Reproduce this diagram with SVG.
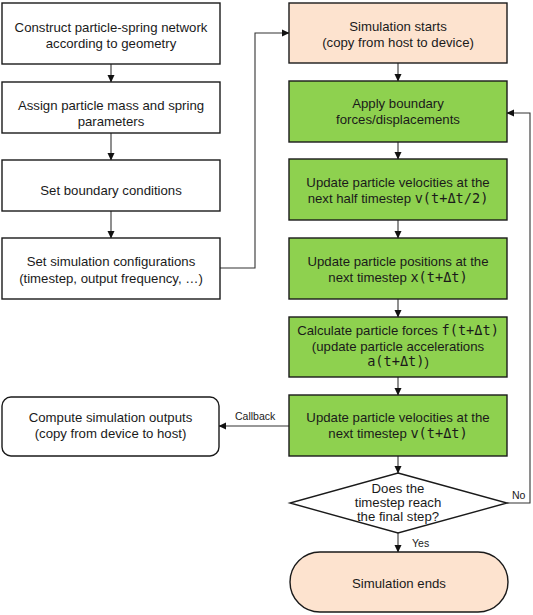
<svg xmlns="http://www.w3.org/2000/svg" width="533" height="615" viewBox="0 0 533 615">
<defs>
<marker id="arr" markerWidth="8" markerHeight="8" refX="7" refY="4" orient="auto" markerUnits="userSpaceOnUse">
<path d="M0,0.5 L7.5,4 L0,7.5 Z" fill="#111"/>
</marker>
<style>
.box{fill:#fff;stroke:#1a1a1a;stroke-width:1.4}
.green{fill:#8ed14f;stroke:#1a1a1a;stroke-width:1.4}
.peach{fill:#fde3cf;stroke:#1a1a1a;stroke-width:1.4}
.t{font-family:"Liberation Sans",Arial,sans-serif;font-size:13.2px;fill:#1a1a1a;text-anchor:middle}
.m{font-family:"DejaVu Sans Mono","Liberation Mono",monospace;font-size:13.6px}
.lbl{font-family:"Liberation Sans",Arial,sans-serif;font-size:10.5px;fill:#1a1a1a}
.c{fill:none;stroke:#333;stroke-width:1.1}
</style>
</defs>
<rect width="533" height="615" fill="#fff"/>

<g id="connectors">
<line class="c" x1="111" y1="64" x2="111" y2="82" marker-end="url(#arr)"/>
<line class="c" x1="111" y1="133" x2="111" y2="160" marker-end="url(#arr)"/>
<line class="c" x1="111" y1="211" x2="111" y2="238" marker-end="url(#arr)"/>
<polyline class="c" points="220,268 255,268 255,33 289,33" marker-end="url(#arr)"/>
<line class="c" x1="398" y1="63" x2="398" y2="81" marker-end="url(#arr)"/>
<line class="c" x1="398" y1="142" x2="398" y2="159" marker-end="url(#arr)"/>
<line class="c" x1="398" y1="220" x2="398" y2="238" marker-end="url(#arr)"/>
<line class="c" x1="398" y1="299" x2="398" y2="317" marker-end="url(#arr)"/>
<line class="c" x1="398" y1="377" x2="398" y2="395" marker-end="url(#arr)"/>
<line class="c" x1="398" y1="456" x2="398" y2="473" marker-end="url(#arr)"/>
<line class="c" x1="398" y1="533" x2="398" y2="552" marker-end="url(#arr)"/>
<line class="c" x1="289" y1="426" x2="219" y2="426" marker-end="url(#arr)"/>
<polyline class="c" points="507,503 530,503 530,113 507,113" marker-end="url(#arr)"/>
<text class="lbl" x="235" y="420">Callback</text>
<text class="lbl" x="512" y="499">No</text>
<text class="lbl" x="412" y="547">Yes</text>
</g>

<g id="n1">
<rect class="box" x="2" y="3" width="218" height="61"/>
<text class="t" x="111" y="31.5">Construct particle-spring network</text>
<text class="t" x="111" y="47.5">according to geometry</text>
</g>
<g id="n2">
<rect class="box" x="2" y="82" width="218" height="51"/>
<text class="t" x="111" y="110">Assign particle mass and spring</text>
<text class="t" x="111" y="125.5">parameters</text>
</g>
<g id="n3">
<rect class="box" x="2" y="160" width="218" height="51"/>
<text class="t" x="111" y="195">Set boundary conditions</text>
</g>
<g id="n4">
<rect class="box" x="2" y="238" width="218" height="61"/>
<text class="t" x="111" y="265.5">Set simulation configurations</text>
<text class="t" x="111" y="283">(timestep, output frequency, …)</text>
</g>
<g id="start">
<rect class="peach" x="289" y="3" width="218" height="60"/>
<text class="t" x="398" y="30.5">Simulation starts</text>
<text class="t" x="398" y="46.5">(copy from host to device)</text>
</g>
<g id="g1">
<rect class="green" x="289" y="81" width="218" height="61"/>
<text class="t" x="398" y="108">Apply boundary</text>
<text class="t" x="398" y="123.5">forces/displacements</text>
</g>
<g id="g2">
<rect class="green" x="289" y="159" width="218" height="61"/>
<text class="t" x="398" y="186.5">Update particle velocities at the</text>
<text class="t" x="398" y="202.5">next half timestep <tspan class="m">v(t+Δt/2)</tspan></text>
</g>
<g id="g3">
<rect class="green" x="289" y="238" width="218" height="61"/>
<text class="t" x="398" y="265.5">Update particle positions at the</text>
<text class="t" x="398" y="281.5">next timestep <tspan class="m">x(t+Δt)</tspan></text>
</g>
<g id="g4">
<rect class="green" x="289" y="317" width="218" height="60"/>
<text class="t" x="398" y="335">Calculate particle forces <tspan class="m">f(t+Δt)</tspan></text>
<text class="t" x="398" y="350.5">(update particle accelerations</text>
<text class="t" x="398" y="366"><tspan class="m">a(t+Δt)</tspan>)</text>
</g>
<g id="g5">
<rect class="green" x="289" y="395" width="218" height="61"/>
<text class="t" x="398" y="421.5">Update particle velocities at the</text>
<text class="t" x="398" y="437.5">next timestep <tspan class="m">v(t+Δt)</tspan></text>
</g>
<g id="outputs">
<rect class="box" x="2" y="397" width="217" height="59" rx="9"/>
<text class="t" x="110.5" y="422">Compute simulation outputs</text>
<text class="t" x="110.5" y="438">(copy from device to host)</text>
</g>
<g id="decision">
<polygon class="box" points="398,473 507,503 398,533 290,503"/>
<text class="t" x="398" y="492.5">Does the</text>
<text class="t" x="398" y="506.5">timestep reach</text>
<text class="t" x="398" y="520.5">the final step?</text>
</g>
<g id="end">
<rect class="peach" x="290" y="552" width="218" height="60" rx="30"/>
<text class="t" x="399" y="588">Simulation ends</text>
</g>
</svg>
